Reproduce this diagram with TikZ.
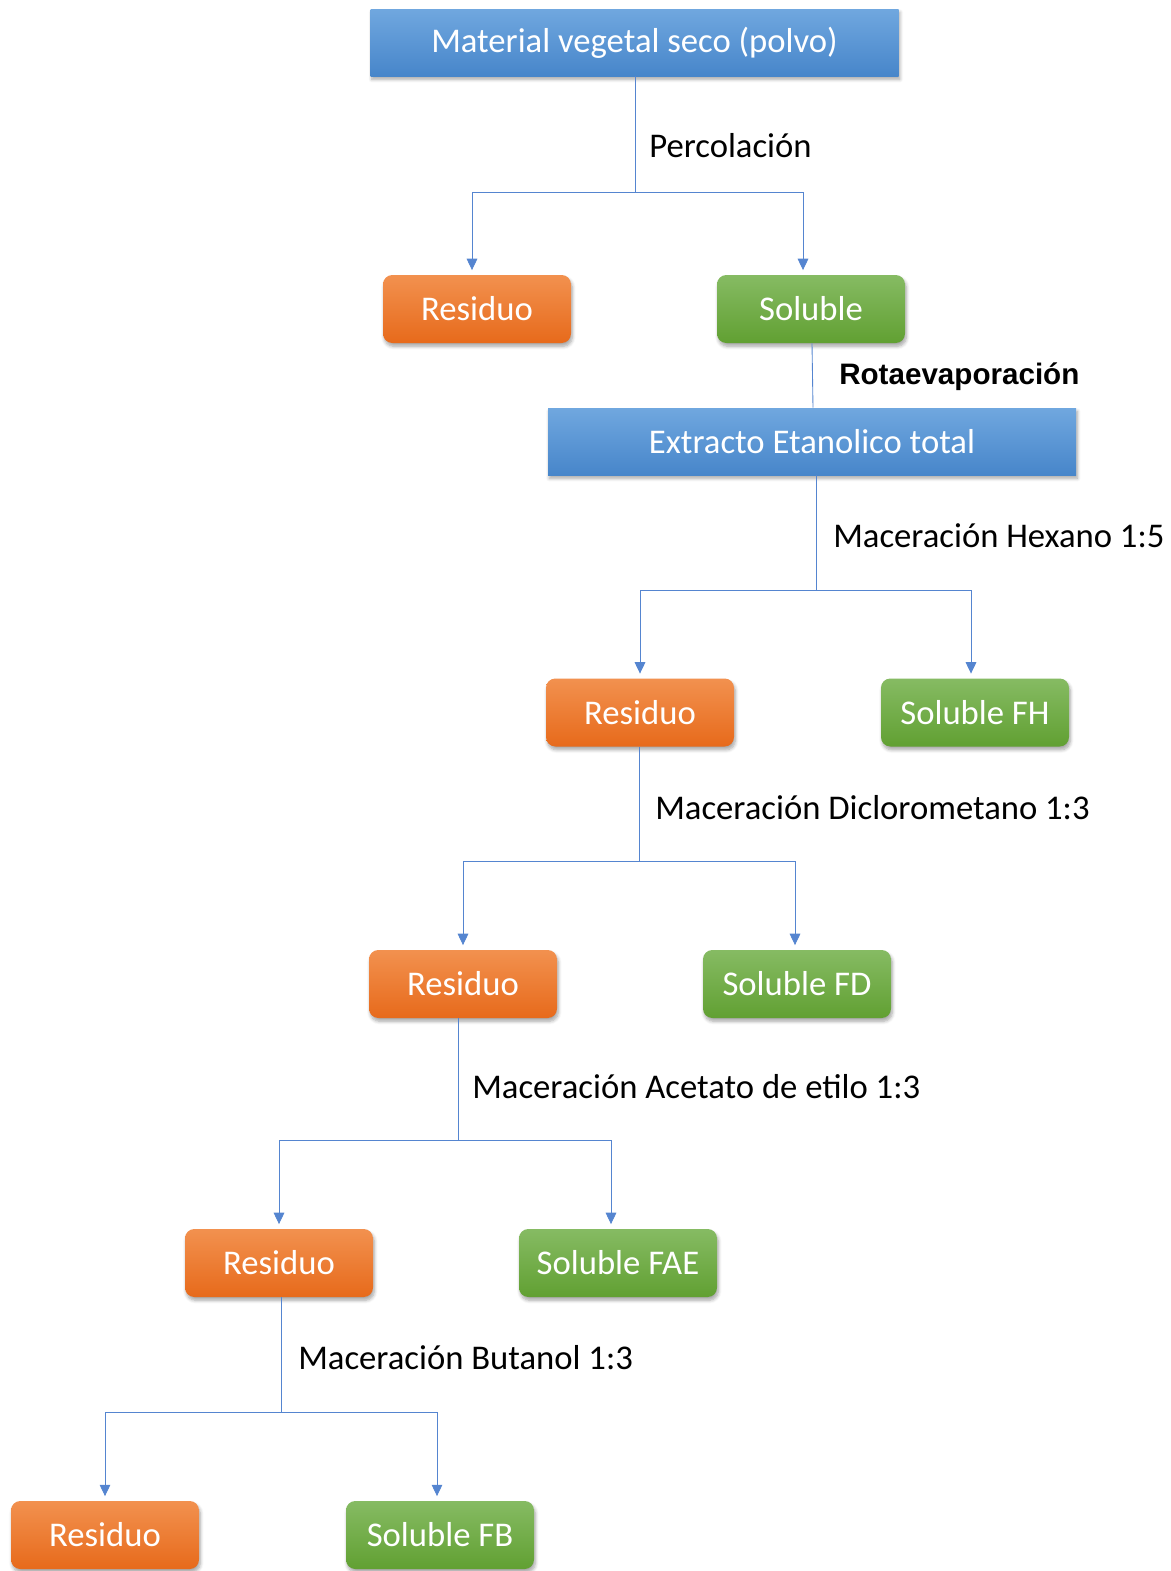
\documentclass[tikz,border=0pt]{standalone}
\usepackage{fontspec}
\setmainfont{Carlito}
\newfontfamily\arialfont{Liberation Sans}
\usetikzlibrary{shadows,shadows.blur,arrows.meta}
\definecolor{bluetop}{HTML}{70A7DF}
\definecolor{bluebot}{HTML}{4786CA}
\definecolor{orgtop}{HTML}{F2914F}
\definecolor{orgbot}{HTML}{E76A1B}
\definecolor{grntop}{HTML}{86BB63}
\definecolor{grnbot}{HTML}{61A032}
\definecolor{conncol}{HTML}{5585D0}
\tikzset{
  base/.style={text=white, font=\fontsize{26}{30}\selectfont, inner sep=0pt,
    blur shadow={shadow xshift=1pt, shadow yshift=-2.5pt, shadow blur radius=2.5pt, shadow blur steps=6, shadow opacity=35}},
  bigbox/.style={base, shading=axis, top color=bluetop, bottom color=bluebot,
    minimum width=396pt, minimum height=50.25pt},
  resbox/.style={base, shading=axis, top color=orgtop, bottom color=orgbot,
    rounded corners=7pt, minimum width=141pt, minimum height=51pt},
  solbox/.style={base, shading=axis, top color=grntop, bottom color=grnbot,
    rounded corners=7pt, minimum width=141pt, minimum height=51pt},
  conn/.style={draw=conncol, line width=0.65pt},
  arr/.style={conn, -{Triangle[width=8pt,length=8.5pt]}, shorten >=3.5pt},
  lab/.style={anchor=west, font=\fontsize{26}{30}\selectfont, inner sep=0pt},
}
\begin{document}
\begin{tikzpicture}[x=0.75pt,y=-0.75pt]
\useasboundingbox (0,0) rectangle (1171,1571);
% nodes
\node[bigbox] (top) at (634.5,42.5) {Material vegetal seco (polvo)};
\node[resbox] (r1) at (477,309) {Residuo};
\node[solbox] (s1) at (811,309) {Soluble};
\node[bigbox] (ext) at (812,441.5) {Extracto Etanolico total};
\node[resbox] (r2) at (640,712.5) {Residuo};
\node[solbox] (s2) at (975,712.5) {Soluble FH};
\node[resbox] (r3) at (463,984) {Residuo};
\node[solbox] (s3) at (797,984) {Soluble FD};
\node[resbox] (r4) at (279,1263) {Residuo};
\node[solbox, minimum width=148.5pt] (s4) at (618,1263) {Soluble FAE};
\node[resbox] (r5) at (105,1535) {Residuo};
\node[solbox] (s5) at (440,1535) {Soluble FB};
% labels
\node[lab] (l1) at (649,146) {Percolación};
\node[lab, font=\arialfont\bfseries\fontsize{22.2}{26}\selectfont] (l2) at (839,377) {Rotaevaporación};
\node[lab] (l3) at (833,536) {Maceración Hexano 1:5};
\node[lab] (l4) at (655,808) {Maceración Diclorometano 1:3};
\node[lab] (l5) at (472,1087) {Maceración Acetato de etilo 1:3};
\node[lab] (l6) at (298,1358) {Maceración Butanol 1:3};
% junctions
\coordinate (j1) at (635,192);
\coordinate (j2) at (816,590);
\coordinate (j3) at (639,861);
\coordinate (j4) at (458,1140);
\coordinate (j5) at (281,1412);
% connectors
\draw[conn] (top.south -| j1) -- (j1);
\draw[arr] (j1) -| ([xshift=-3.75pt]r1.north);
\draw[arr] (j1) -| ([xshift=-6pt]s1.north);
\draw[conn] ([xshift=0.75pt]s1.south) -- ([xshift=0.75pt]ext.north);
\draw[conn] (ext.south -| j2) -- (j2);
\draw[arr] (j2) -| (r2.north);
\draw[arr] (j2) -| ([xshift=-3pt]s2.north);
\draw[conn] (r2.south -| j3) -- (j3);
\draw[arr] (j3) -| (r3.north);
\draw[arr] (j3) -| ([xshift=-1.5pt]s3.north);
\draw[conn] (r3.south -| j4) -- (j4);
\draw[arr] (j4) -| (r4.north);
\draw[arr] (j4) -| ([xshift=-5.25pt]s4.north);
\draw[conn] (r4.south -| j5) -- (j5);
\draw[arr] (j5) -| (r5.north);
\draw[arr] (j5) -| ([xshift=-2.25pt]s5.north);
\end{tikzpicture}
\end{document}
